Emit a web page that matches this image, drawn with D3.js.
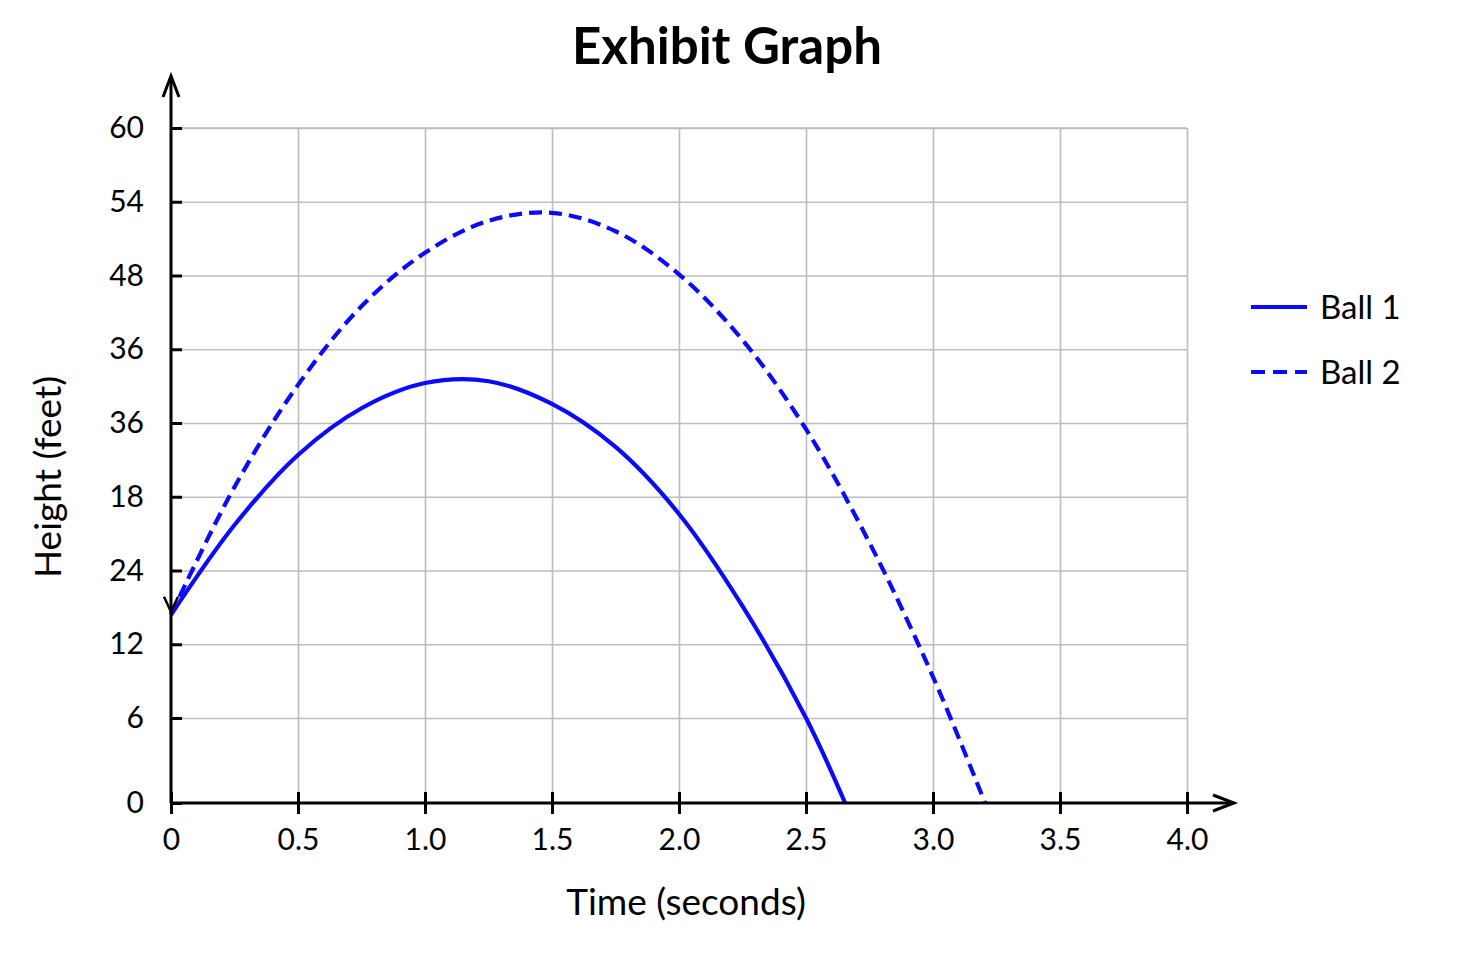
<!DOCTYPE html>
<meta charset="utf-8">
<script src="https://d3js.org/d3.v7.min.js"></script>
<style>
  body { margin: 0; background: #fff; }
  text { font-family: Lato, "Open Sans", sans-serif; fill: #000; }
</style>
<div id="chart"></div>
<script>
// Tick values and the labels printed on the exhibit (the y labels are as shown, out of order)
var timeTicks = [0, 0.5, 1.0, 1.5, 2.0, 2.5, 3.0, 3.5, 4.0];
var timeLabels = ["0", "0.5", "1.0", "1.5", "2.0", "2.5", "3.0", "3.5", "4.0"];
var heightTicks = [0, 6, 12, 18, 24, 30, 36, 42, 48, 54];
var heightLabels = ["0", "6", "12", "24", "18", "36", "36", "48", "54", "60"];

// Ball 1 (solid)
var ball1Time = [0, 0.25, 0.5, 0.75, 1.0, 1.25, 1.5, 1.75, 2.0, 2.25, 2.5, 2.654];
var ball1Height = [14.4, 21.7, 27.4, 31.2, 33.25, 33.4, 31.55, 28.05, 22.6, 15.1, 6.0, 0];

// Ball 2 (dashed)
var ball2Time = [0, 0.25, 0.5, 0.75, 1.0, 1.25, 1.5, 1.75, 2.0, 2.25, 2.5, 2.75, 3.0, 3.205];
var ball2Height = [14.4, 24.8, 33.1, 39.5, 43.85, 46.45, 47.1, 45.6, 42.1, 36.75, 29.5, 20.25, 9.35, 0];

var series = [
  {name: "Ball 1", time: ball1Time, height: ball1Height, dash: null},
  {name: "Ball 2", time: ball2Time, height: ball2Height, dash: "13,7"}
];

var W = 1469, H = 979;
var margin = {top: 128, right: 282, bottom: 176, left: 171},
    width = W - margin.left - margin.right,
    height = H - margin.top - margin.bottom;
var firstStep = 85; // the 0-6 gap is drawn a little taller than the others

var svg = d3.select("#chart").append("svg")
    .attr("width", W)
    .attr("height", H);
var g = svg.append("g")
    .attr("transform", "translate(" + margin.left + "," + margin.top + ")");

var x = d3.scaleLinear().domain([0, 4]).range([0, width]);
var y = d3.scaleLinear().domain([0, 6, 54]).range([height, height - firstStep, 0]);

// grid
g.append("g")
  .attr("transform", "translate(0," + height + ")")
  .call(d3.axisBottom(x).tickValues(timeTicks.slice(1)).tickSize(-height).tickFormat(""))
  .call(s => s.select(".domain").remove())
  .selectAll("line").attr("stroke", "#bdbdbd").attr("stroke-width", 1.6);
g.append("g")
  .call(d3.axisLeft(y).tickValues(heightTicks.slice(1)).tickSize(-width).tickFormat(""))
  .call(s => s.select(".domain").remove())
  .selectAll("line").attr("stroke", "#bdbdbd").attr("stroke-width", 1.6);
g.append("line")
  .attr("x1", 0).attr("x2", width)
  .attr("y1", 0).attr("y2", 0)
  .attr("stroke", "#bdbdbd").attr("stroke-width", 1.6);

// curves
var line = d3.line()
  .x(d => x(d[0]))
  .y(d => y(d[1]))
  .curve(d3.curveCatmullRom.alpha(0.5));
series.forEach(function(s) {
  g.append("path")
    .datum(d3.zip(s.time, s.height))
    .attr("fill", "none")
    .attr("stroke", "#0a0aff")
    .attr("stroke-width", 4.2)
    .attr("stroke-dasharray", s.dash)
    .attr("d", line);
});

// axes
var xAxis = g.append("g")
  .attr("transform", "translate(0," + height + ")")
  .call(d3.axisBottom(x).tickValues(timeTicks).tickFormat((d, i) => timeLabels[i]).tickSize(11).tickPadding(15));
xAxis.select(".domain").remove();
xAxis.selectAll(".tick line").attr("y1", -11).attr("stroke", "#000").attr("stroke-width", 3);
xAxis.selectAll("text").attr("font-size", 30).attr("font-family", "Lato, sans-serif").attr("fill", "#000");

var yAxis = g.append("g")
  .call(d3.axisLeft(y).tickValues(heightTicks).tickFormat((d, i) => heightLabels[i]).tickSize(11).tickPadding(16));
yAxis.select(".domain").remove();
yAxis.selectAll(".tick line").attr("x2", 11).attr("stroke", "#000").attr("stroke-width", 3);
yAxis.selectAll("text").attr("font-size", 30).attr("font-family", "Lato, sans-serif").attr("fill", "#000");

// axis lines with arrow heads
g.append("line")
  .attr("x1", 0).attr("y1", height)
  .attr("x2", 0).attr("y2", -50)
  .attr("stroke", "#000").attr("stroke-width", 3);
g.append("path")
  .attr("d", "M-8,-31 L0,-52 L8,-31")
  .attr("fill", "none").attr("stroke", "#000").attr("stroke-width", 3);
g.append("line")
  .attr("x1", 0).attr("y1", height)
  .attr("x2", width + 45).attr("y2", height)
  .attr("stroke", "#000").attr("stroke-width", 3);
g.append("path")
  .attr("d", "M" + (width + 26) + "," + (height - 8) + " L" + (width + 47) + "," + height + " L" + (width + 26) + "," + (height + 8))
  .attr("fill", "none").attr("stroke", "#000").attr("stroke-width", 3);

// small down arrow where the curves start
var y0 = y(ball1Height[0]);
g.append("path")
  .attr("d", "M-7," + (y0 - 18) + " L0," + (y0 - 3) + " L7," + (y0 - 18))
  .attr("fill", "none").attr("stroke", "#000").attr("stroke-width", 2.5);

// titles
svg.append("text")
  .attr("x", 727).attr("y", 64)
  .attr("text-anchor", "middle")
  .attr("font-size", 51).attr("font-weight", "bold")
  .text("Exhibit Graph");
svg.append("text")
  .attr("x", 686).attr("y", 915)
  .attr("text-anchor", "middle")
  .attr("font-size", 37)
  .text("Time (seconds)");
svg.append("text")
  .attr("transform", "translate(61,477) rotate(-90)")
  .attr("text-anchor", "middle")
  .attr("font-size", 37)
  .text("Height (feet)");

// legend
var legend = svg.append("g").attr("transform", "translate(1251,307)");
series.forEach(function(s, i) {
  var row = legend.append("g").attr("transform", "translate(0," + (i * 65) + ")");
  row.append("line")
    .attr("x1", 0).attr("x2", 56)
    .attr("stroke", "#0a0aff").attr("stroke-width", 4)
    .attr("stroke-dasharray", s.dash ? "14,8" : null);
  row.append("text")
    .attr("x", 69).attr("y", 12)
    .attr("font-size", 33)
    .text(s.name);
});
</script>
